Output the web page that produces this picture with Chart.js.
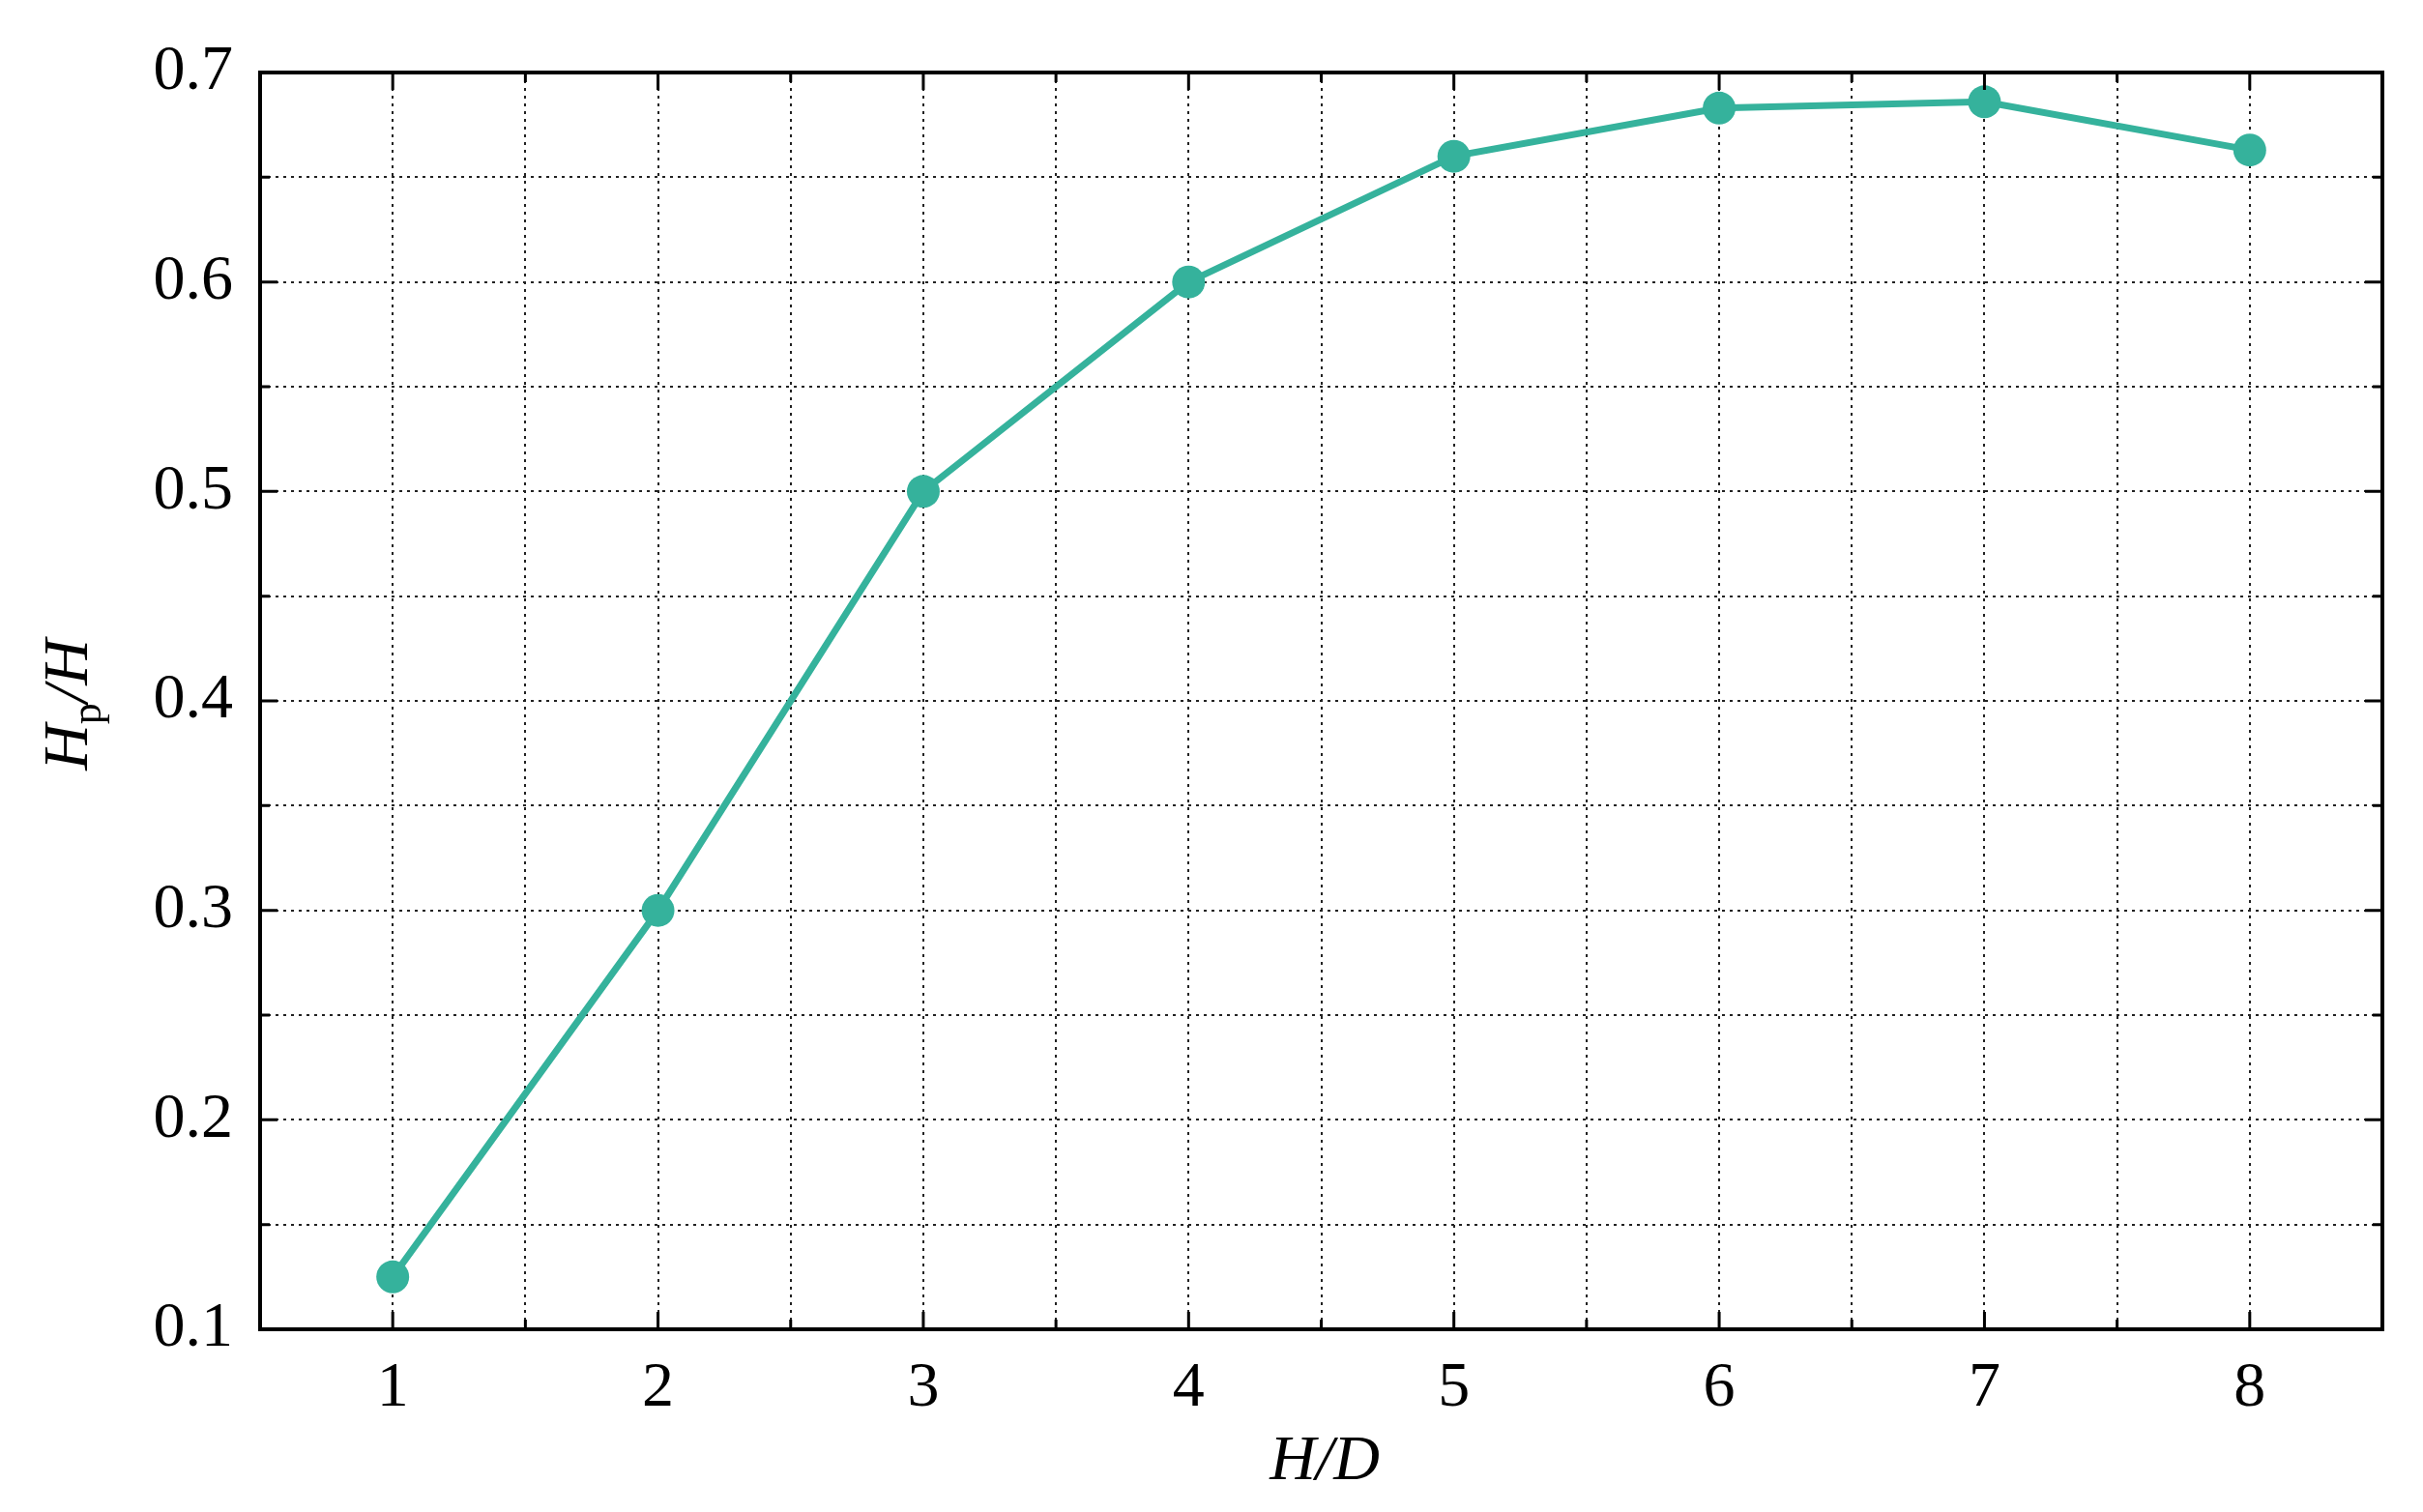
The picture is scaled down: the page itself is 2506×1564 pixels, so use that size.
<!DOCTYPE html>
<html><head><meta charset="utf-8">
<script src="https://cdn.jsdelivr.net/npm/chart.js@4/dist/chart.umd.min.js"></script>
<style>html,body{margin:0;background:#fff}#wrap{width:2506px;height:1564px}</style>
</head><body><div id="wrap"><canvas id="c"></canvas></div>
<script>
const xValues = [1, 2, 3, 4, 5, 6, 7, 8];
const yValues = [0.125, 0.30, 0.50, 0.60, 0.660, 0.683, 0.686, 0.663];
const lineColor = '#35b29c';
const serif = '"Liberation Serif", "DejaVu Serif", serif';

// frame, inward ticks and axis titles
const frame = {
  id: 'frame',
  afterDraw(chart) {
    const { ctx, chartArea: a, scales: { x, y } } = chart;
    ctx.save();
    ctx.strokeStyle = '#000';
    ctx.lineWidth = 4;
    ctx.strokeRect(a.left, a.top, a.right - a.left, a.bottom - a.top);
    ctx.lineWidth = 3;
    for (let v = 1; v <= 8.01; v += 0.5) {
      const px = x.getPixelForValue(v), len = Number.isInteger(v) ? 18 : 10;
      ctx.beginPath(); ctx.moveTo(px, a.bottom); ctx.lineTo(px, a.bottom - len);
      ctx.moveTo(px, a.top); ctx.lineTo(px, a.top + len); ctx.stroke();
    }
    for (let i = 3; i <= 13; i++) {
      const v = i * 0.05, py = y.getPixelForValue(v), len = i % 2 === 0 ? 18 : 10;
      ctx.beginPath(); ctx.moveTo(a.left, py); ctx.lineTo(a.left + len, py);
      ctx.moveTo(a.right, py); ctx.lineTo(a.right - len, py); ctx.stroke();
    }
    ctx.fillStyle = '#000';
    ctx.textBaseline = 'alphabetic';
    // x title H/D
    ctx.font = 'italic 66px ' + serif;
    ctx.textAlign = 'center';
    ctx.fillText('H/D', 1370, 1530);
    // y title H_p/H rotated
    ctx.translate(90, 729);
    ctx.rotate(-Math.PI / 2);
    ctx.textAlign = 'left';
    const w1 = ctx.measureText('H').width;
    ctx.font = '44px ' + serif;
    const w2 = ctx.measureText('p').width;
    ctx.font = 'italic 66px ' + serif;
    const w3 = ctx.measureText('/H').width;
    let sx = -(w1 + w2 + w3) / 2;
    ctx.fillText('H', sx, 0); sx += w1;
    ctx.font = '44px ' + serif; ctx.fillText('p', sx, 14); sx += w2;
    ctx.font = 'italic 66px ' + serif; ctx.fillText('/H', sx, 0);
    ctx.restore();
  }
};

new Chart(document.getElementById('c'), {
  type: 'line',
  data: {
    datasets: [{
      data: xValues.map((x, i) => ({ x, y: yValues[i] })),
      borderColor: lineColor,
      backgroundColor: lineColor,
      borderWidth: 7,
      pointRadius: 17,
      pointBorderWidth: 0,
      tension: 0
    }]
  },
  options: {
    responsive: true,
    maintainAspectRatio: false,
    animation: false,
    layout: { padding: { top: 75, right: 42, left: 0, bottom: 0 } },
    plugins: { legend: { display: false }, tooltip: { enabled: false } },
    scales: {
      x: {
        type: 'linear', min: 0.5, max: 8.5,
        afterFit(s) { s.height = 189; },
        grid: { color: '#222', lineWidth: 2, drawTicks: false },
        border: { display: false, dash: [3, 5] },
        ticks: {
          stepSize: 0.5, padding: 22, color: '#000',
          font: { family: serif, size: 66 },
          callback: v => Number.isInteger(v) ? String(v) : ''
        }
      },
      y: {
        min: 0.1, max: 0.7,
        afterFit(s) { s.width = 269; },
        grid: { color: '#222', lineWidth: 2, drawTicks: false },
        border: { display: false, dash: [3, 5] },
        ticks: {
          stepSize: 0.05, padding: 28, color: '#000',
          font: { family: serif, size: 66 },
          callback: v => Math.abs(v * 10 - Math.round(v * 10)) < 1e-6 ? v.toFixed(1) : ''
        }
      }
    }
  },
  plugins: [frame]
});
</script></body></html>
